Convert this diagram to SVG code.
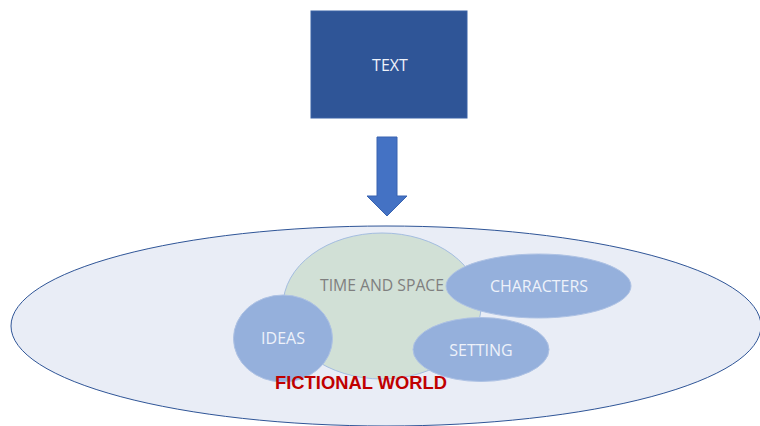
<svg xmlns="http://www.w3.org/2000/svg" width="760" height="426" viewBox="0 0 760 426">
<style>
  .lbl{font-family:"Open Sans","Liberation Sans",sans-serif;font-size:16px;text-anchor:middle;dominant-baseline:central}
  .w{fill:#eef2fa}
  .blue{fill:#95b0dc;stroke:#aec2e4;stroke-width:1}
</style>
<rect width="760" height="426" fill="#ffffff"/>
<g id="world">
  <ellipse cx="386" cy="326" rx="375" ry="100" fill="#e9edf6" stroke="#2f5597" stroke-width="1"/>
</g>
<g id="time-space">
  <ellipse cx="382" cy="306" rx="99" ry="73" fill="#d1e0d6" stroke="#a4bde0" stroke-width="1"/>
  <text class="lbl" x="382" y="285" fill="#7f7f7f" textLength="124" lengthAdjust="spacingAndGlyphs">TIME AND SPACE</text>
</g>
<g id="characters">
  <ellipse class="blue" cx="538.5" cy="286" rx="92.5" ry="32"/>
  <text class="lbl w" x="539" y="286" textLength="98" lengthAdjust="spacingAndGlyphs">CHARACTERS</text>
</g>
<g id="setting">
  <ellipse class="blue" cx="481" cy="349.5" rx="68" ry="32"/>
  <text class="lbl w" x="481" y="350">SETTING</text>
</g>
<g id="ideas">
  <ellipse class="blue" cx="283" cy="338.5" rx="49.5" ry="43.5"/>
  <text class="lbl w" x="283" y="338">IDEAS</text>
</g>
<g id="world-label">
  <text x="361" y="389" font-family="'Liberation Sans',Arial,sans-serif" font-size="19" font-weight="bold" fill="#c00000" text-anchor="middle" textLength="172" lengthAdjust="spacingAndGlyphs">FICTIONAL WORLD</text>
</g>
<g id="text-node">
  <rect x="311" y="11" width="156" height="107" fill="#2f5597" stroke="#3a62a6" stroke-width="1"/>
  <text class="lbl w" x="390" y="65">TEXT</text>
</g>
<g id="connectors">
  <polygon points="377,137 397,137 397,196 407,196 387,216 367,196 377,196" fill="#4472c4" stroke="#3863b0" stroke-width="1"/>
</g>
</svg>
